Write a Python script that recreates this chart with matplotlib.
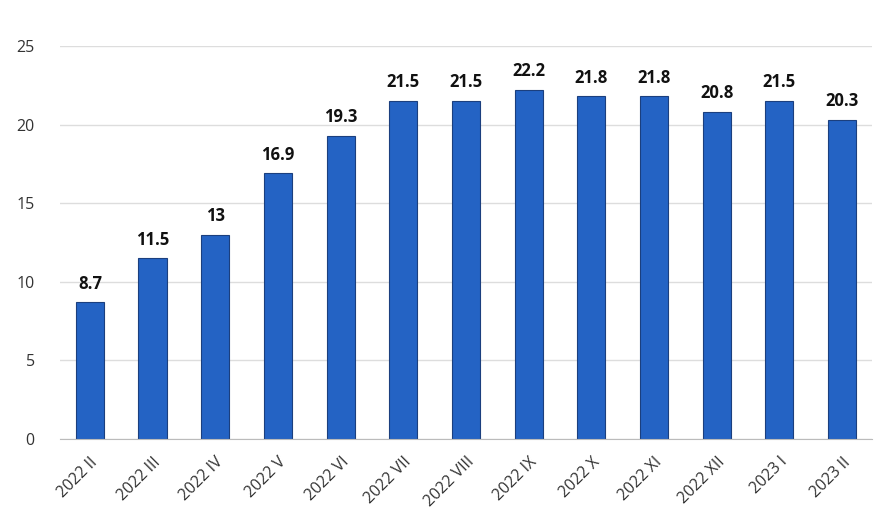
import matplotlib.pyplot as plt

plt.rcParams['font.family'] = ['Open Sans', 'DejaVu Sans']

months = ['2022 II', '2022 III', '2022 IV', '2022 V', '2022 VI', '2022 VII', '2022 VIII',
          '2022 IX', '2022 X', '2022 XI', '2022 XII', '2023 I', '2023 II']
values = [8.7, 11.5, 13, 16.9, 19.3, 21.5, 21.5, 22.2, 21.8, 21.8, 20.8, 21.5, 20.3]
labels = ['8.7', '11.5', '13', '16.9', '19.3', '21.5', '21.5', '22.2', '21.8', '21.8', '20.8', '21.5', '20.3']
yticks = [0, 5, 10, 15, 20, 25]

fig = plt.figure(figsize=(8.8, 5.25), dpi=100)
ax = fig.add_axes([0.068, 0.164, 0.923, 0.748])

x = range(len(months))
bars = ax.bar(x, values, width=0.45, color='#2463C4', edgecolor='#1B3F7E', linewidth=0.8, zorder=3)

# value labels on top of bars
for b, lab in zip(bars, labels):
    ax.annotate(lab, (b.get_x() + b.get_width() / 2, b.get_height()),
                xytext=(0, 7), textcoords='offset points', ha='center', va='bottom',
                fontsize=12, fontweight='bold', color='#111111')

ax.set_xlim(-0.48, len(months) - 0.52)
ax.set_ylim(0, 25)
ax.set_yticks(yticks)
ax.set_xticks(list(x))
ax.set_xticklabels(months, rotation=45, ha='right', rotation_mode='anchor')
ax.tick_params(axis='both', length=0, labelsize=11.5, colors='#333333')
ax.tick_params(axis='y', pad=18)
ax.tick_params(axis='x', pad=11)

ax.grid(axis='y', color='#DDDDDD', linewidth=1, zorder=0)
for side in ['top', 'right', 'left']:
    ax.spines[side].set_visible(False)
ax.spines['bottom'].set_color('#BBBBBB')
ax.spines['bottom'].set_zorder(4)

fig.savefig('out.png', dpi=100)
